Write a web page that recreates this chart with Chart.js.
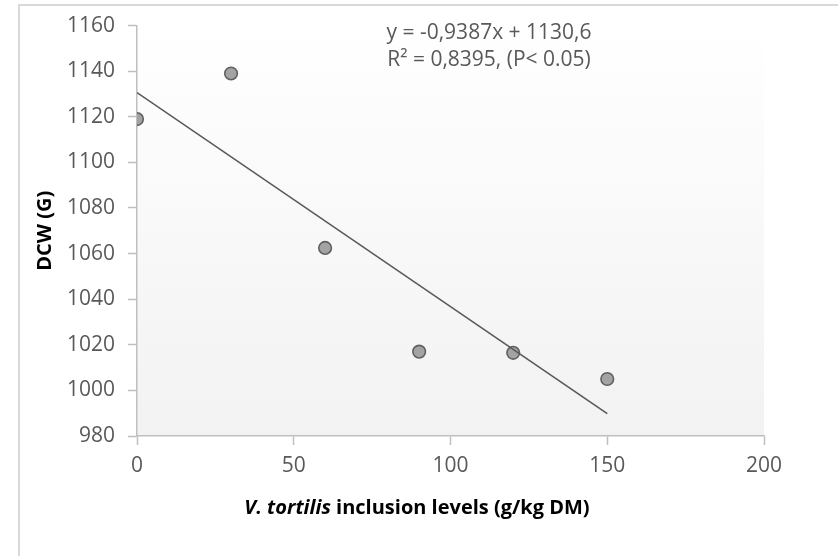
<!DOCTYPE html>
<html><head><meta charset="utf-8">
<script src="https://cdn.jsdelivr.net/npm/chart.js@4.4.0/dist/chart.umd.min.js"></script>
<style>html,body{margin:0;padding:0;background:#fff}#wrap{width:838px;height:556px;position:relative}</style>
</head><body><div id="wrap"><canvas id="c" width="838" height="556"></canvas></div>
<script>
// ---- data ----
const inclusionLevels = [0, 30, 60, 90, 120, 150];
const dcwValues = [1119, 1139, 1062.5, 1017, 1016.5, 1005];
const trendX = [0, 150];
const trendY = [1130.6, 989.8];
const xTicks = [0, 50, 100, 150, 200];
const yTicks = [980, 1000, 1020, 1040, 1060, 1080, 1100, 1120, 1140, 1160];
const equationLines = ['y = -0,9387x + 1130,6', 'R\u00B2 = 0,8395, (P< 0.05)'];
const yTitle = 'DCW (G)';
const xTitleItalic = 'V. tortilis';
const xTitleRest = ' inclusion levels (g/kg DM)';

const FONT = "'Open Sans', sans-serif";

const decorPlugin = {
  id: 'decor',
  beforeDraw(chart) {
    const {ctx, chartArea: a} = chart;
    ctx.save();
    ctx.strokeStyle = '#d9d9d9';
    ctx.lineWidth = 2;
    ctx.beginPath();
    ctx.moveTo(19, 560);
    ctx.lineTo(19, 5);
    ctx.lineTo(845, 5);
    ctx.stroke();
    const g = ctx.createLinearGradient(0, a.top, 0, a.bottom);
    g.addColorStop(0, '#ffffff');
    g.addColorStop(1, '#f2f2f2');
    ctx.fillStyle = g;
    ctx.fillRect(a.left, a.top, a.right - a.left, a.bottom - a.top);
    ctx.restore();
  },
  afterDraw(chart) {
    const {ctx} = chart;
    ctx.save();
    ctx.fillStyle = '#595959';
    ctx.font = '21px ' + FONT;
    ctx.textAlign = 'center';
    ctx.textBaseline = 'middle';
    ctx.fillText(equationLines[0], 489, 33);
    ctx.fillText(equationLines[1], 489, 60);
    ctx.fillStyle = '#000000';
    const fi = 'italic bold 20px ' + FONT;
    const fb = 'bold 20px ' + FONT;
    ctx.font = fi; const w1 = ctx.measureText(xTitleItalic).width;
    ctx.font = fb; const w2 = ctx.measureText(xTitleRest).width;
    const x0 = 417 - (w1 + w2) / 2;
    ctx.textAlign = 'left';
    ctx.font = fi; ctx.fillText(xTitleItalic, x0, 508);
    ctx.font = fb; ctx.fillText(xTitleRest, x0 + w1, 508);
    ctx.restore();
  }
};

new Chart(document.getElementById('c'), {
  type: 'scatter',
  data: {
    datasets: [
      {
        label: 'trend',
        data: trendX.map((x, i) => ({x, y: trendY[i]})),
        showLine: true,
        borderColor: '#595959',
        borderWidth: 1.6,
        pointRadius: 0,
        order: 0
      },
      {
        label: 'DCW',
        data: inclusionLevels.map((x, i) => ({x, y: dcwValues[i]})),
        backgroundColor: '#a3a3a3',
        borderColor: '#606060',
        borderWidth: 1.6,
        pointRadius: 6.3,
        order: 1
      }
    ]
  },
  options: {
    responsive: false,
    devicePixelRatio: 1,
    animation: false,
    events: [],
    layout: {padding: {left: 20, top: 22, right: 74, bottom: 0}},
    plugins: {legend: {display: false}, tooltip: {enabled: false}},
    scales: {
      x: {
        type: 'linear',
        min: xTicks[0], max: xTicks[xTicks.length - 1],
        afterBuildTicks(s) { s.ticks = xTicks.map(v => ({value: v})); },
        afterFit(s) { s.height = 120; },
        grid: {drawOnChartArea: false, drawTicks: true, tickLength: 9, tickColor: '#bfbfbf', tickWidth: 1.5},
        border: {color: '#bfbfbf', width: 1.5},
        ticks: {color: '#595959', font: {family: FONT, size: 21}, padding: 8, maxRotation: 0, callback: v => String(v)}
      },
      y: {
        type: 'linear',
        min: yTicks[0], max: yTicks[yTicks.length - 1],
        afterBuildTicks(s) { s.ticks = yTicks.map(v => ({value: v})); },
        afterFit(s) { s.width = 117; },
        grid: {drawOnChartArea: false, drawTicks: true, tickLength: 9, tickColor: '#bfbfbf', tickWidth: 1.5},
        border: {color: '#bfbfbf', width: 1.5},
        ticks: {color: '#595959', font: {family: FONT, size: 21}, padding: 13, callback: v => String(v)},
        title: {display: true, text: yTitle, color: '#000000', font: {family: FONT, size: 20, weight: 'bold'}, padding: {top: 13, bottom: 0}}
      }
    }
  },
  plugins: [decorPlugin]
});
</script>
</body></html>
